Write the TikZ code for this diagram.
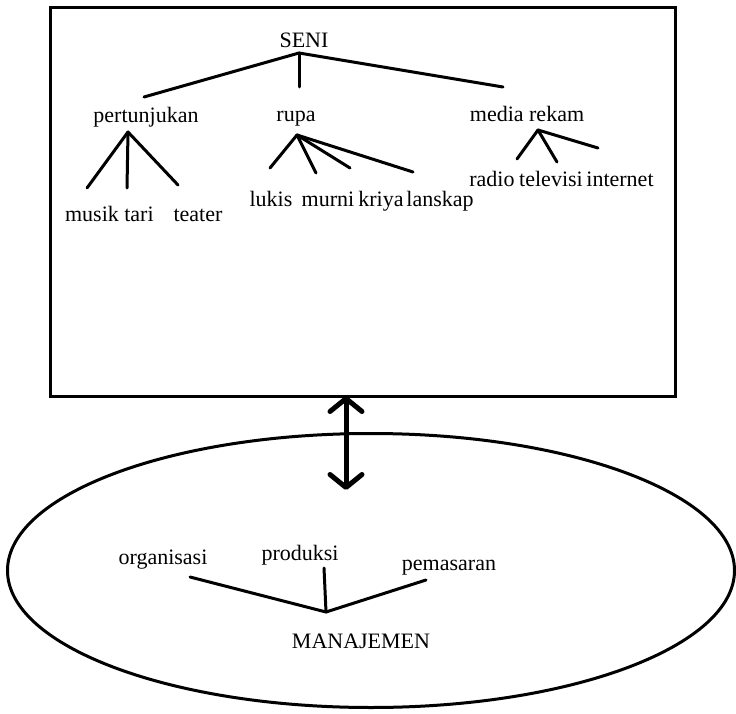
\documentclass[tikz,border=0pt]{standalone}
\usepackage{fontspec}
\setmainfont{Liberation Serif}
\usetikzlibrary{shapes.geometric,arrows.meta,positioning}

\tikzset{
  lbl/.style={anchor=base, inner sep=0pt, font=\fontsize{22}{24}\selectfont},
  branch/.style={line width=3pt, line cap=round},
  barb/.style={line width=5pt, {Straight Barb[length=13pt,width=32pt,round]}-{Straight Barb[length=13pt,width=32pt,round]}},
}

\begin{document}
\begin{tikzpicture}[x=1pt,y=-1pt]
    \useasboundingbox (0,0) rectangle (736,714);

    % Seni box
    \node[draw, line width=3pt, inner sep=0pt, minimum width=625pt, minimum height=388pt] (box) at (362.5,202) {};
    \node[lbl] (seni) at (304,48) {SENI};
    \node[lbl] (pertunjukan) at (146,123) {pertunjukan};
    \node[lbl] (rupa) at (296,122) {rupa};
    \node[lbl] (media) at (527,122) {media rekam};
    \node[lbl] (musik) at (92,222) {musik};
    \node[lbl] (tari) at (139,222) {tari};
    \node[lbl] (teater) at (198,222) {teater};
    \node[lbl] (lukis) at (271,207) {lukis};
    \node[lbl] (murni) at (328,207) {murni};
    \node[lbl] (kriya) at (381,207) {kriya};
    \node[lbl] (lanskap) at (440,207) {lanskap};
    \node[lbl] (radio) at (492,187) {radio};
    \node[lbl] (televisi) at (551,187) {televisi};
    \node[lbl] (internet) at (620,187) {internet};

    % junctions and branch ends
    \coordinate (seniJ) at (299,53);
    \coordinate (toPert) at (144,97);
    \coordinate (toRupa) at (299,87);
    \coordinate (toMedia) at (503,87);
    \coordinate (pertJ) at (128,132);
    \coordinate (toMusik) at (87,188);
    \coordinate (toTari) at (127,188);
    \coordinate (toTeater) at (178,185);
    \coordinate (rupaJ) at (297,135);
    \coordinate (toLukis) at (270,168);
    \coordinate (toMurni) at (316,173);
    \coordinate (toKriya) at (350,168);
    \coordinate (toLanskap) at (413,172);
    \coordinate (mediaJ) at (538,130);
    \coordinate (toRadio) at (517,159);
    \coordinate (toTelevisi) at (557,162);
    \coordinate (toInternet) at (598,148);

    \draw[branch] (seniJ) -- (toPert);
    \draw[branch] (seniJ) -- (toRupa);
    \draw[branch] (seniJ) -- (toMedia);
    \draw[branch] (pertJ) -- (toMusik);
    \draw[branch] (pertJ) -- (toTari);
    \draw[branch] (pertJ) -- (toTeater);
    \draw[branch] (rupaJ) -- (toLukis);
    \draw[branch] (rupaJ) -- (toMurni);
    \draw[branch] (rupaJ) -- (toKriya);
    \draw[branch] (rupaJ) -- (toLanskap);
    \draw[branch] (mediaJ) -- (toRadio);
    \draw[branch] (mediaJ) -- (toTelevisi);
    \draw[branch] (mediaJ) -- (toInternet);

    % Manajemen ellipse
    \node[ellipse, draw, line width=3pt, inner sep=0pt, minimum width=727pt, minimum height=274pt] (mgmt) at (371,570.5) {};
    \node[lbl] (organisasi) at (163,564) {organisasi};
    \node[lbl] (produksi) at (300,560) {produksi};
    \node[lbl] (pemasaran) at (449,570) {pemasaran};
    \node[lbl] (manajemen) at (361,648) {MANAJEMEN};

    \coordinate (manJ) at (326,612);
    \coordinate (toOrg) at (190,577);
    \coordinate (toProd) at (324,568);
    \coordinate (toPem) at (426,580);
    \draw[branch] (manJ) -- (toOrg);
    \draw[branch] (manJ) -- (toProd);
    \draw[branch] (manJ) -- (toPem);

    % link between the two
    \coordinate (linkTop) at (346,396);
    \coordinate (linkBot) at (346,490);
    \draw[barb] (linkTop) -- (linkBot);
\end{tikzpicture}
\end{document}
